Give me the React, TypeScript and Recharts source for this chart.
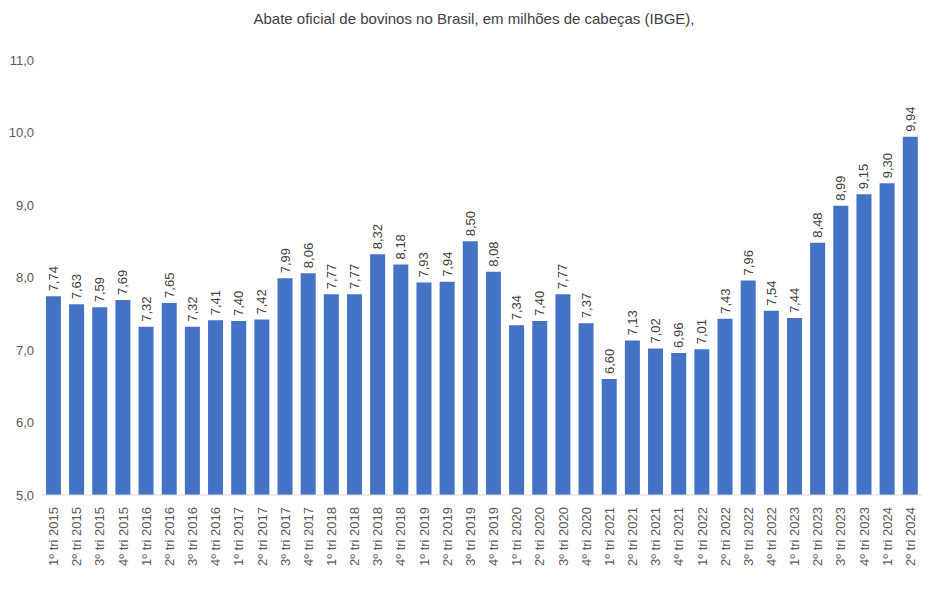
import React from 'react';
import { BarChart, Bar, XAxis, YAxis, LabelList } from 'recharts';

const categories = [
  '1º tri 2015', '2º tri 2015', '3º tri 2015', '4º tri 2015',
  '1º tri 2016', '2º tri 2016', '3º tri 2016', '4º tri 2016',
  '1º tri 2017', '2º tri 2017', '3º tri 2017', '4º tri 2017',
  '1º tri 2018', '2º tri 2018', '3º tri 2018', '4º tri 2018',
  '1º tri 2019', '2º tri 2019', '3º tri 2019', '4º tri 2019',
  '1º tri 2020', '2º tri 2020', '3º tri 2020', '4º tri 2020',
  '1º tri 2021', '2º tri 2021', '3º tri 2021', '4º tri 2021',
  '1º tri 2022', '2º tri 2022', '3º tri 2022', '4º tri 2022',
  '1º tri 2023', '2º tri 2023', '3º tri 2023', '4º tri 2023',
  '1º tri 2024', '2º tri 2024',
];

const abate = [
  7.74, 7.63, 7.59, 7.69,
  7.32, 7.65, 7.32, 7.41,
  7.40, 7.42, 7.99, 8.06,
  7.77, 7.77, 8.32, 8.18,
  7.93, 7.94, 8.50, 8.08,
  7.34, 7.40, 7.77, 7.37,
  6.60, 7.13, 7.02, 6.96,
  7.01, 7.43, 7.96, 7.54,
  7.44, 8.48, 8.99, 9.15,
  9.30, 9.94,
];

const yTicks = [5, 6, 7, 8, 9, 10, 11];

const title = 'Abate oficial de bovinos no Brasil, em milhões de cabeças (IBGE),';

const data = categories.map((c, i) => ({ name: c, value: abate[i] }));

const FONT = '"Liberation Sans", "DejaVu Sans", sans-serif';

const XTick = (props: any) => {
  const { x, y, payload } = props;
  return (
    <text
      x={x}
      y={y}
      transform={`rotate(-90, ${x}, ${y})`}
      textAnchor="end"
      dominantBaseline="central"
      fontSize={13}
      fill="#595959"
      fontFamily={FONT}
    >
      {payload.value}
    </text>
  );
};

const BarLabel = (props: any) => {
  const { x, y, width, value } = props;
  const cx = x + width / 2;
  const cy = y - 5;
  return (
    <text
      x={cx}
      y={cy}
      transform={`rotate(-90, ${cx}, ${cy})`}
      textAnchor="start"
      dominantBaseline="central"
      fontSize={13}
      fill="#404040"
      fontFamily={FONT}
    >
      {Number(value).toFixed(2).replace('.', ',')}
    </text>
  );
};

export default function App() {
  return (
    <div style={{ position: 'absolute', left: 0, top: 0, width: 949, height: 590, background: '#fff' }}>
      <svg width={949} height={40} style={{ position: 'absolute', left: 0, top: 0 }}>
        <text x={474} y={24} textAnchor="middle" fontSize={15} fill="#404040" fontFamily={FONT}>
          {title}
        </text>
      </svg>
      <div style={{ position: 'absolute', left: 0, top: 0 }}>
        <BarChart
          width={949}
          height={590}
          data={data}
          margin={{ top: 60, right: 27, bottom: 0, left: 8 }}
          barCategoryGap="17%"
        >
          <XAxis
            dataKey="name"
            interval={0}
            tick={<XTick />}
            tickLine={false}
            axisLine={{ stroke: '#D9D9D9', strokeWidth: 1 }}
            height={95}
            tickMargin={6}
          />
          <YAxis
            domain={[5, 11]}
            ticks={yTicks}
            width={34}
            axisLine={false}
            tickLine={false}
            tick={{ fontSize: 13, fill: '#595959', fontFamily: FONT }}
            tickFormatter={(v: number) => v.toFixed(1).replace('.', ',')}
          />
          <Bar dataKey="value" fill="#4472C4" isAnimationActive={false}>
            <LabelList dataKey="value" content={<BarLabel />} />
          </Bar>
        </BarChart>
      </div>
    </div>
  );
}
